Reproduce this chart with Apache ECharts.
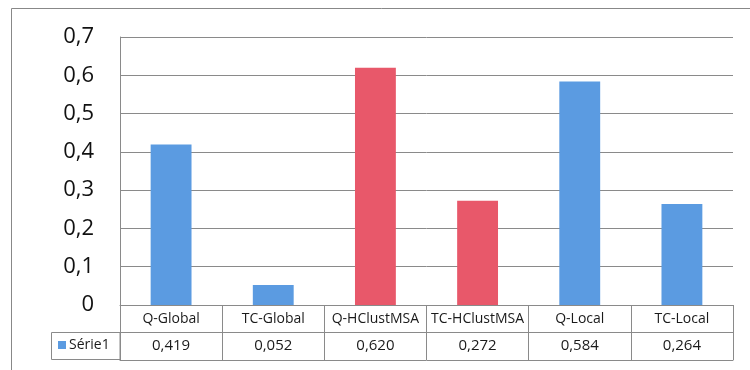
<!DOCTYPE html>
<html>
<head>
<meta charset="utf-8">
<script src="https://cdn.jsdelivr.net/npm/echarts@6/dist/echarts.min.js"></script>
<style>
  html, body { margin: 0; padding: 0; background: #fff; }
  #chart { width: 750px; height: 370px; }
</style>
</head>
<body>
<div id="chart"></div>
<script>
// Methods compared, with their scores (Série1)
const categories = ['Q-Global', 'TC-Global', 'Q-HClustMSA', 'TC-HClustMSA', 'Q-Local', 'TC-Local'];
const values = [0.419, 0.052, 0.620, 0.272, 0.584, 0.264];
const seriesName = 'Série1';
const yTicks = { min: 0, max: 0.7, interval: 0.1 };

const BLUE = '#5b9be1';
const RED = '#e8586a';
const LINE = '#8a8a8a';
const FONT = '"Open Sans", "DejaVu Sans", sans-serif';

const fmt = v => v.toFixed(3).replace('.', ',');
const valueLabels = values.map(fmt);

const chart = echarts.init(document.getElementById('chart'), null, { renderer: 'canvas' });

chart.setOption({
  animation: false,
  backgroundColor: '#fff',
  color: [BLUE],
  grid: { left: 120, right: 17, top: 37, bottom: 65, containLabel: false },
  legend: {
    data: [{ name: seriesName, itemStyle: { color: BLUE } }],
    left: 58, top: 338,
    icon: 'rect', itemWidth: 8, itemHeight: 8, itemGap: 4,
    textStyle: { fontFamily: FONT, fontSize: 14, color: '#1a1a1a', padding: [0, 0, 0, -2] },
    padding: 0
  },
  xAxis: [
    {
      type: 'category', data: categories, position: 'bottom',
      axisLine: { show: true, lineStyle: { color: LINE, width: 1 } },
      axisTick: { show: true, length: 55, lineStyle: { color: LINE, width: 1 } },
      axisLabel: { fontFamily: FONT, fontSize: 14, color: '#1a1a1a', margin: 7, interval: 0 },
      splitLine: { show: false }
    },
    {
      type: 'category', data: valueLabels, position: 'bottom', offset: 27,
      axisLine: { show: true, lineStyle: { color: LINE, width: 1 } },
      axisTick: { show: false },
      axisLabel: { fontFamily: FONT, fontSize: 15, color: '#1a1a1a', margin: 6, interval: 0 }
    },
    {
      type: 'category', data: categories, position: 'bottom', offset: 55,
      axisLine: { show: true, lineStyle: { color: LINE, width: 1 } },
      axisTick: { show: false },
      axisLabel: { show: false }
    }
  ],
  yAxis: {
    type: 'value', min: yTicks.min, max: yTicks.max, interval: yTicks.interval,
    axisLine: { show: true, lineStyle: { color: LINE, width: 1 } },
    axisTick: { show: false },
    splitLine: { show: true, lineStyle: { color: LINE, width: 1 } },
    axisLabel: {
      fontFamily: FONT, fontSize: 22, color: '#111', margin: 26,
      formatter: v => String(+v.toFixed(1)).replace('.', ',')
    }
  },
  series: [{
    name: seriesName,
    type: 'bar',
    xAxisIndex: 0,
    data: values,
    barWidth: '40%',
    itemStyle: {
      color: p => (p.name.indexOf('HClustMSA') >= 0 ? RED : BLUE)
    }
  }],
  graphic: [
    // outer chart frame
    { type: 'rect', shape: { x: 11.5, y: 8.5, width: 800, height: 400 },
      style: { fill: 'none', stroke: '#888', lineWidth: 1 }, silent: true, z: -1 },
    // legend cell of the data table
    { type: 'rect', shape: { x: 51.5, y: 332.5, width: 68.5, height: 27 },
      style: { fill: 'none', stroke: LINE, lineWidth: 1 }, silent: true }
  ]
});
</script>
</body>
</html>
